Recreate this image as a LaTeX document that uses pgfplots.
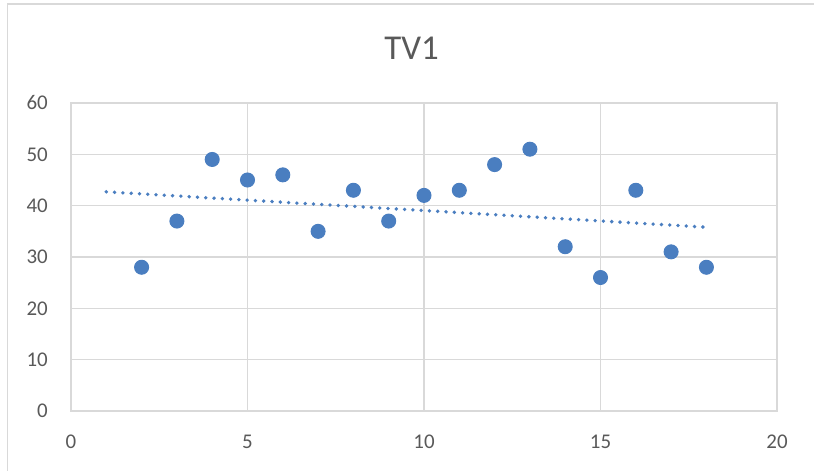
\documentclass[border=0pt]{standalone}
\usepackage{fontspec}
\setmainfont{Carlito}
\usepackage{pgfplots}
\pgfplotsset{compat=1.18}
\definecolor{ptblue}{RGB}{74,126,192}
\definecolor{gridgray}{RGB}{217,217,217}
\definecolor{txtgray}{RGB}{89,89,89}
\begin{document}
\begin{tikzpicture}[x=1bp,y=1bp]
\path[use as bounding box] (0,0) rectangle (814,471);
\draw[gridgray, line width=1.5bp] (7.5,-10) -- (7.5,467) -- (830,467);
\node[txtgray, font=\fontsize{35}{42}\selectfont, inner sep=0pt] at (411.5,423) {TV1};
\begin{axis}[
  at={(71bp,60bp)}, anchor=south west,
  scale only axis, width=706bp, height=308bp,
  xmin=0, xmax=20, ymin=0, ymax=60,
  xtick={0,5,...,20}, ytick={0,10,...,60},
  grid=major,
  major grid style={gridgray, line width=1.6bp},
  axis line style={gridgray, line width=1.6bp},
  major tick length=0pt,
  tick label style={txtgray, font=\fontsize{21}{25}\selectfont, inner sep=0pt},
  /pgf/number format/assume math mode=true,
  xticklabel style={anchor=north, yshift=-24bp},
  yticklabel style={anchor=east, xshift=-23bp},
  clip=false,
]
\addplot[only marks, mark=*, mark size=7bp, mark options={fill=ptblue, draw=ptblue, line width=1bp}] coordinates {
(2,28) (3,37) (4,49) (5,45) (6,46) (7,35) (8,43) (9,37) (10,42)
(11,43) (12,48) (13,51) (14,32) (15,26) (16,43) (17,31) (18,28)
};
\addplot[ptblue, line width=3.8bp, line cap=round, dash pattern=on 0bp off 8.3bp] coordinates {(1,42.7) (18,35.8)};
\end{axis}
\end{tikzpicture}
\end{document}
